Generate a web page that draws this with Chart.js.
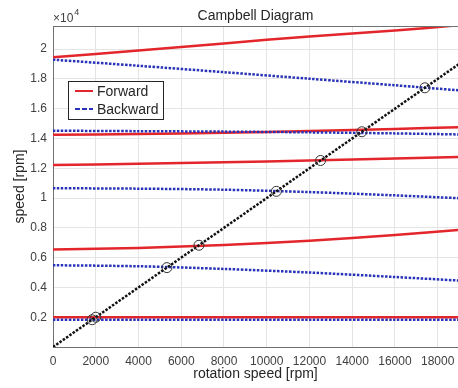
<!DOCTYPE html>
<html>
<head>
<meta charset="utf-8">
<script src="https://cdn.jsdelivr.net/npm/chart.js@4"></script>
<style>
  html, body { margin: 0; padding: 0; background: #fff; }
  #wrap { width: 458px; height: 388px; }
</style>
</head>
<body>
<div id="wrap"><canvas id="campbell" width="458" height="388"></canvas></div>
<script>
// rotation speed samples [rpm]
const rpm = [0, 4000, 8000, 12000, 16000, 19000];

// forward whirl modes [rpm]
const fwd1 = [19450, 19900, 20380, 20850, 21250, 21600];
const fwd2 = [14250, 14300, 14380, 14500, 14640, 14760];
const fwd3 = [12210, 12300, 12400, 12520, 12660, 12760];
const fwd4 = [6550, 6650, 6850, 7140, 7520, 7860];
const fwd5 = [2000, 2000, 2000, 2000, 2000, 2000];

// backward whirl modes [rpm]
const bwd1 = [19290, 18880, 18450, 18010, 17570, 17230];
const bwd2 = [14520, 14490, 14460, 14410, 14340, 14270];
const bwd3 = [10660, 10630, 10560, 10400, 10180, 9990];
const bwd4 = [5490, 5420, 5240, 5000, 4700, 4460];
const bwd5 = [1830, 1830, 1830, 1830, 1830, 1830];

// 1x excitation line
const excRpm = [0, 19000];
const excSpeed = [0, 19000];

// critical speeds (circles)
const critRpm = [1830, 2000, 5330, 6830, 10450, 12520, 14450, 17400];
const critSpeed = [1830, 2000, 5330, 6830, 10450, 12520, 14450, 17400];

const xTicks = [0, 2000, 4000, 6000, 8000, 10000, 12000, 14000, 16000, 18000];
const yTicks = [2000, 4000, 6000, 8000, 10000, 12000, 14000, 16000, 18000, 20000];

const RED = '#e3262b';
const BLUE = '#2832b8';
const FONT = '"Liberation Sans", Arial, sans-serif';

function toPoints(xs, ys) {
    return xs.map((x, i) => ({ x: x, y: ys[i] }));
}

const fwdModes = [fwd1, fwd2, fwd3, fwd4, fwd5];
const bwdModes = [bwd1, bwd2, bwd3, bwd4, bwd5];

const datasets = [];
fwdModes.forEach((m, i) => {
    datasets.push({
        label: i === 0 ? 'Forward' : '',
        data: toPoints(rpm, m),
        borderColor: RED,
        borderWidth: 2.5,
        pointRadius: 0,
        tension: 0.3,
        order: 2
    });
});
bwdModes.forEach((m, i) => {
    datasets.push({
        label: i === 0 ? 'Backward' : '',
        data: toPoints(rpm, m),
        borderColor: BLUE,
        borderWidth: 2.5,
        borderDash: [2.5, 1.5],
        pointRadius: 0,
        tension: 0.3,
        order: 1
    });
});
datasets.push({
    label: '',
    data: toPoints(excRpm, excSpeed),
    borderColor: '#111',
    borderWidth: 2.5,
    borderDash: [2.5, 1.5],
    pointRadius: 0,
    order: 0
});
datasets.push({
    label: '',
    type: 'scatter',
    data: toPoints(critRpm, critSpeed),
    showLine: false,
    pointStyle: 'circle',
    pointRadius: 5,
    borderWidth: 1,
    pointBorderColor: '#333',
    pointBackgroundColor: 'rgba(0,0,0,0)',
    order: -1
});

// box top line, x10^4 exponent and legend inside the axes
const decorations = {
    id: 'decorations',
    afterDraw(chart) {
        const ctx = chart.ctx;
        const a = chart.chartArea;
        ctx.save();
        ctx.strokeStyle = '#707070';
        ctx.lineWidth = 1;
        ctx.beginPath();
        ctx.moveTo(a.left, a.top + 0.5);
        ctx.lineTo(a.right, a.top + 0.5);
        ctx.stroke();

        // exponent label
        ctx.fillStyle = '#404040';
        ctx.textBaseline = 'alphabetic';
        ctx.textAlign = 'left';
        ctx.font = '12px ' + FONT;
        ctx.fillText('\u00d710', a.left, 22);
        const w = ctx.measureText('\u00d710').width;
        ctx.font = '9px ' + FONT;
        ctx.fillText('4', a.left + w + 1, 15);

        // legend
        const lx = 68, ly = 81, lw = 95, lh = 38;
        ctx.fillStyle = '#fff';
        ctx.fillRect(lx, ly, lw, lh);
        ctx.strokeStyle = '#262626';
        ctx.strokeRect(lx + 0.5, ly + 0.5, lw, lh);
        const entries = [
            { text: 'Forward', color: RED, dash: [] },
            { text: 'Backward', color: BLUE, dash: [5, 2] }
        ];
        entries.forEach((e, i) => {
            const y = ly + 10 + i * 18;
            ctx.strokeStyle = e.color;
            ctx.lineWidth = 2;
            ctx.setLineDash(e.dash);
            ctx.beginPath();
            ctx.moveTo(lx + 7, y);
            ctx.lineTo(lx + 25, y);
            ctx.stroke();
            ctx.setLineDash([]);
            ctx.fillStyle = '#262626';
            ctx.font = '14px ' + FONT;
            ctx.textBaseline = 'middle';
            ctx.fillText(e.text, lx + 29, y + 1);
        });
        ctx.restore();
    }
};

new Chart(document.getElementById('campbell').getContext('2d'), {
    type: 'line',
    data: { datasets: datasets },
    options: {
        responsive: false,
        animation: false,
        layout: { autoPadding: false, padding: { left: 0, right: 0, top: 0, bottom: 0 } },
        plugins: {
            legend: { display: false },
            tooltip: { enabled: false },
            title: {
                display: true,
                text: 'Campbell Diagram',
                fullSize: false,
                color: '#262626',
                font: { family: FONT, size: 14, weight: 'normal' },
                padding: { top: 8, bottom: 1.2 }
            }
        },
        scales: {
            x: {
                type: 'linear',
                min: 0,
                max: 18950,
                afterFit: s => { s.height = 41; s.paddingLeft = 0; s.paddingRight = 0; },
                afterBuildTicks: s => { s.ticks = xTicks.map(v => ({ value: v })); },
                ticks: {
                    color: '#404040',
                    padding: 7,
                    maxRotation: 0,
                    font: { family: FONT, size: 12 },
                    callback: v => String(v)
                },
                grid: { color: '#e4e4e4', drawTicks: false },
                border: { color: '#707070' },
                title: {
                    display: true,
                    text: 'rotation speed [rpm]',
                    color: '#262626',
                    font: { family: FONT, size: 14 },
                    padding: { top: 0, bottom: 5 }
                }
            },
            y: {
                type: 'linear',
                min: 0,
                max: 21550,
                afterFit: s => { s.width = 53; s.paddingTop = 0; s.paddingBottom = 0; },
                afterBuildTicks: s => { s.ticks = yTicks.map(v => ({ value: v })); },
                ticks: {
                    color: '#404040',
                    padding: 6,
                    font: { family: FONT, size: 12 },
                    callback: v => String(+(v / 10000).toFixed(1))
                },
                grid: { color: '#e4e4e4', drawTicks: false },
                border: { color: '#707070' },
                title: {
                    display: true,
                    text: 'speed [rpm]',
                    color: '#262626',
                    font: { family: FONT, size: 14 },
                    padding: { top: 12, bottom: 0 }
                }
            }
        }
    },
    plugins: [decorations]
});
</script>
</body>
</html>
